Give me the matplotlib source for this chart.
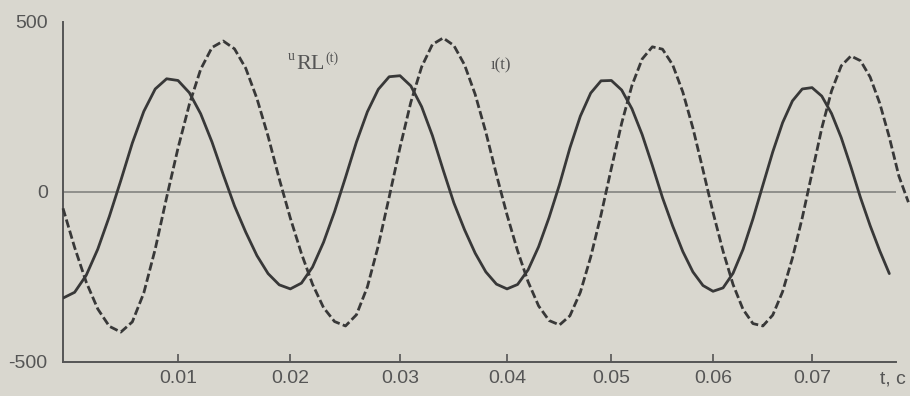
import numpy as np
import matplotlib
matplotlib.use("Agg")
import matplotlib.pyplot as plt
from matplotlib.ticker import NullLocator

# time grids (s), step 1 ms
t_u = np.arange(79) / 1000.0
t_i = np.arange(81) / 1000.0

# solid curve u_RL(t)
u_rl = [-312, -295, -245, -168, -72, 34, 144, 237, 303, 333,
        328, 292, 230, 147, 51, -41, -118, -187, -240, -273,
        -285, -268, -221, -148, -58, 43, 147, 236, 302, 339,
        342, 312, 251, 166, 65, -32, -111, -180, -235, -271,
        -285, -272, -229, -161, -75, 22, 130, 223, 291, 327,
        328, 300, 245, 169, 78, -17, -100, -175, -235, -275,
        -292, -282, -239, -169, -79, 20, 118, 204, 268, 303,
        307, 282, 231, 160, 74, -17, -99, -173, -240]

# dashed curve i(t)
i_t = [-48, -163, -265, -344, -395, -412, -382, -297, -168, -16,
       129, 258, 361, 425, 444, 421, 364, 275, 164, 39,
       -77, -181, -271, -340, -381, -394, -361, -279, -158, -15,
       131, 264, 368, 434, 453, 431, 374, 287, 176, 51,
       -67, -173, -264, -335, -378, -391, -364, -295, -191, -67,
       70, 202, 313, 391, 427, 420, 374, 294, 188, 65,
       -60, -174, -272, -345, -387, -394, -362, -293, -194, -76,
       56, 188, 297, 371, 400, 386, 338, 261, 161, 47,
       -30]

x_ticks = [0.01, 0.02, 0.03, 0.04, 0.05, 0.06, 0.07]
x_labels = ["0.01", "0.02", "0.03", "0.04", "0.05", "0.06", "0.07"]
y_ticks = [-500, 0, 500]

paper = "#d9d7cf"
ink = "#383838"
grey = "#555555"

# the photographed page is slightly squeezed towards the right
K = 1.146


def fwd(t):
    t = np.asarray(t, dtype=float)
    return t - K * t * t


def inv(s):
    s = np.asarray(s, dtype=float)
    return (1 - np.sqrt(np.clip(1 - 4 * K * s, 0, None))) / (2 * K)


fig = plt.figure(figsize=(9.1, 3.96), dpi=100, facecolor=paper)
ax = fig.add_axes([63 / 910, 34 / 396, 833 / 910, 340 / 396])
ax.set_facecolor(paper)
ax.set_xscale("function", functions=(fwd, inv))

ax.axhline(0, color="#8a8a86", lw=1.3, zorder=1)
ax.plot(t_u, u_rl, color=ink, lw=2.0, solid_capstyle="round", zorder=3)
ax.plot(t_i, i_t, color=ink, lw=2.0, dashes=(3.0, 1.2), zorder=3, clip_on=False)

ax.set_xlim(0, 0.0787)
ax.set_ylim(-500, 500)

for side in ["top", "right"]:
    ax.spines[side].set_visible(False)
for side in ["left", "bottom"]:
    ax.spines[side].set_color(grey)
    ax.spines[side].set_linewidth(1.4)

tick_font = {"family": "Liberation Sans", "size": 14}
ax.set_xticks(x_ticks)
ax.set_xticklabels(x_labels, fontdict=tick_font, color=grey)
ax.xaxis.set_minor_locator(NullLocator())
ax.tick_params(axis="x", direction="in", length=6, width=1.2, color=grey, pad=6)
ax.set_yticks(y_ticks)
ax.set_yticklabels([str(v) for v in y_ticks], fontdict=tick_font, color=grey)
ax.tick_params(axis="y", length=0, pad=11)

fig.text(906 / 910, 1 - 379 / 396, "t, с", ha="right", va="center",
         fontdict=tick_font, color=grey)

serif = ["Liberation Serif", "DejaVu Serif"]
ax.text(0.0198, 400, "u", family=serif, size=10, color=grey, ha="left", va="center")
ax.text(0.0205, 376, "RL", family=serif, size=16, color=grey, ha="left", va="center")
ax.text(0.0232, 394, "(t)", family=serif, size=10, color=grey, ha="left", va="center")
ax.text(0.0385, 372, "ı(t)", family=serif, size=12, color=grey, ha="left", va="center")

fig.savefig("out.png", dpi=100, facecolor=paper)
